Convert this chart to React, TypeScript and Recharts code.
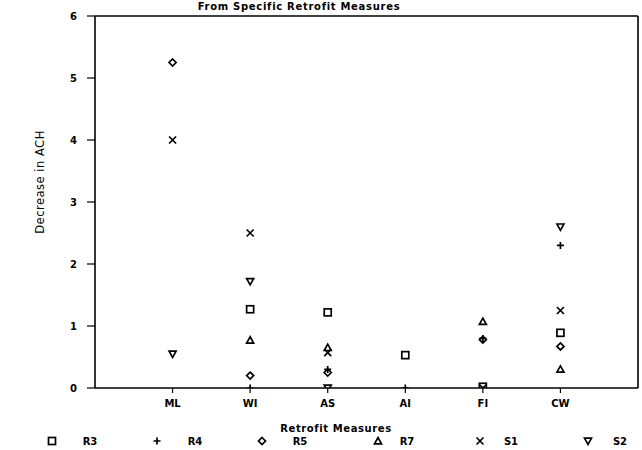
import React from 'react';
import { ScatterChart, Scatter, XAxis, YAxis, ReferenceLine, Customized } from 'recharts';

const categories = ['ML', 'WI', 'AS', 'AI', 'FI', 'CW'];
const seriesNames = ['R3', 'R4', 'R5', 'R7', 'S1', 'S2'];
const R3 = [null, 1.27, 1.22, 0.53, 0.02, 0.89];
const R4 = [null, 0, 0.3, 0, 0.8, 2.3];
const R5 = [5.25, 0.2, 0.25, null, 0.78, 0.67];
const R7 = [null, 0.77, 0.65, null, 1.07, 0.3];
const S1 = [4.0, 2.5, 0.57, null, 0, 1.25];
const S2 = [0.55, 1.72, 0, null, null, 2.6];
const yTicks = [0, 1, 2, 3, 4, 5, 6];

const allSeries = [R3, R4, R5, R7, S1, S2];
const markerKinds = ['square', 'plus', 'diamond', 'triUp', 'cross', 'triDown'];

const FONT = '"DejaVu Sans", sans-serif';

function Marker({ kind, cx, cy }: { kind: string; cx: number; cy: number }) {
  const s = 3.5;
  const common = { stroke: '#000', strokeWidth: 1.7, fill: 'none' };
  switch (kind) {
    case 'square':
      return <rect x={cx - s} y={cy - s} width={2 * s} height={2 * s} {...common} />;
    case 'plus':
      return <path d={`M${cx - s},${cy}H${cx + s}M${cx},${cy - s}V${cy + s}`} {...common} />;
    case 'diamond':
      return <path d={`M${cx},${cy - s}L${cx + s},${cy}L${cx},${cy + s}L${cx - s},${cy}Z`} {...common} />;
    case 'triUp':
      return <path d={`M${cx},${cy - s}L${cx + s},${cy + s * 0.8}L${cx - s},${cy + s * 0.8}Z`} {...common} />;
    case 'cross':
      return <path d={`M${cx - s},${cy - s}L${cx + s},${cy + s}M${cx + s},${cy - s}L${cx - s},${cy + s}`} {...common} />;
    case 'triDown':
      return <path d={`M${cx - s},${cy - s * 0.8}L${cx + s},${cy - s * 0.8}L${cx},${cy + s}Z`} {...common} />;
    default:
      return null;
  }
}

const makeShape = (kind: string) => (props: any) => <Marker kind={kind} cx={props.cx} cy={props.cy} />;

const toPoints = (vals: (number | null)[]) =>
  vals
    .map((v, i) => (v === null ? null : { x: i + 1, y: v }))
    .filter((p) => p !== null) as { x: number; y: number }[];

const legendMarkerX = [52, 157, 262, 378, 480, 588];
const legendTextX = [90, 195, 300, 407, 511, 620];

const Overlay = () => (
  <g fontFamily={FONT} fontWeight="bold" fill="#000">
    <text x={299} y={9.5} textAnchor="middle" fontSize={10} letterSpacing={0.7}>
      From Specific Retrofit Measures
    </text>
    <text x={336} y={432} textAnchor="middle" fontSize={10} letterSpacing={0.6}>
      Retrofit Measures
    </text>
    <text
      x={0}
      y={0}
      transform="translate(44,182) rotate(-90)"
      textAnchor="middle"
      fontSize={11.5}
      fontWeight="normal"
      letterSpacing={0.5}
    >
      Decrease in ACH
    </text>
    {seriesNames.map((n, i) => (
      <g key={n}>
        <Marker kind={markerKinds[i]} cx={legendMarkerX[i]} cy={441} />
        <text x={legendTextX[i]} y={445} textAnchor="middle" fontSize={10}>
          {n}
        </text>
      </g>
    ))}
  </g>
);

export default function App() {
  return (
    <div style={{ position: 'absolute', left: 0, top: 0, background: '#fff' }}>
      <ScatterChart width={642} height={450} margin={{ top: 16, right: 4, bottom: 32, left: 0 }}>
        <XAxis
          dataKey="x"
          type="number"
          domain={[0, 7]}
          ticks={[1, 2, 3, 4, 5, 6]}
          tickFormatter={(v: number) => categories[v - 1] ?? ''}
          height={30}
          tickSize={5}
          tickMargin={7}
          axisLine={{ stroke: '#000', strokeWidth: 1.6 }}
          tickLine={{ stroke: '#000', strokeWidth: 1.2 }}
          tick={{ fill: '#000', fontSize: 10, fontFamily: FONT, fontWeight: 'bold' }}
          allowDataOverflow
        />
        <YAxis
          dataKey="y"
          type="number"
          domain={[0, 6]}
          ticks={yTicks}
          width={95}
          tickSize={8}
          tickMargin={10}
          axisLine={{ stroke: '#000', strokeWidth: 1.6 }}
          tickLine={{ stroke: '#000', strokeWidth: 1.2 }}
          tick={{ fill: '#000', fontSize: 10, fontFamily: FONT, fontWeight: 'bold' }}
          allowDataOverflow
        />
        <ReferenceLine y={6} stroke="#000" strokeWidth={1.6} />
        <ReferenceLine x={7} stroke="#000" strokeWidth={1.6} />
        {allSeries.map((s, i) => (
          <Scatter
            key={seriesNames[i]}
            name={seriesNames[i]}
            data={toPoints(s)}
            shape={makeShape(markerKinds[i])}
            isAnimationActive={false}
          />
        ))}
        <Customized component={Overlay} />
      </ScatterChart>
    </div>
  );
}
